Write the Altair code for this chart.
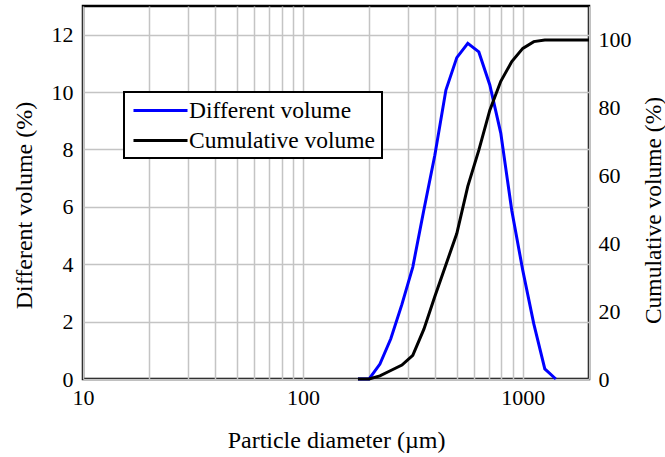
import altair as alt
import pandas as pd

# ---- data ----
diam_diff = [178, 200, 224, 251, 282, 316, 355, 398, 447, 501, 562, 631, 708, 794, 891, 1000, 1122, 1259, 1413]
diff_vol = [0, 0, 0.52, 1.4, 2.6, 3.9, 5.9, 7.8, 10.07, 11.2, 11.7, 11.4, 10.25, 8.57, 5.87, 3.78, 1.92, 0.35, 0]

diam_cum = [178, 200, 224, 251, 282, 316, 355, 398, 447, 501, 562, 631, 708, 794, 891, 1000, 1122, 1259, 1413, 2000]
cum_vol = [0, 0, 0.9, 2.5, 4.1, 7.0, 14.7, 24.3, 33.7, 42.9, 56.8, 67.5, 79.3, 87.8, 93.6, 97.5, 99.5, 100, 100, 100]

series_names = ["Different volume", "Cumulative volume"]
series_colors = ["#0000ff", "#000000"]

x_grid_ticks = [10, 20, 30, 40, 50, 60, 70, 80, 90,
                100, 200, 300, 400, 500, 600, 700, 800, 900,
                1000, 2000]
left_ticks = [0, 2, 4, 6, 8, 10, 12]
right_ticks = [0, 20, 40, 60, 80, 100]

FONT = "Liberation Serif"

df_diff = pd.DataFrame({"d": diam_diff, "v": diff_vol, "series": series_names[0]})
df_cum = pd.DataFrame({"d": diam_cum, "v": cum_vol, "series": series_names[1]})

x_enc = alt.X(
    "d:Q",
    scale=alt.Scale(type="log", domain=[10, 2000], nice=False),
    axis=alt.Axis(
        values=x_grid_ticks,
        labelExpr="(datum.value == 10 || datum.value == 100 || datum.value == 1000) ? format(datum.value, 'd') : ''",
        labelOverlap=False,
        labelFlush=False,
        grid=True,
        ticks=False,
        domain=False,
        labelPadding=8,
        title="Particle diameter (\u00b5m)",
        titleX=253,
        titleY=61,
        titleBaseline="middle",
        titleAlign="center",
    ),
)

color_enc = alt.Color(
    "series:N",
    scale=alt.Scale(domain=series_names, range=series_colors),
    title=None,
    legend=alt.Legend(
        orient="none",
        legendX=41,
        legendY=86,
        strokeColor="black",
        fillColor="white",
        padding=6,
        symbolType="M-2.5,0H2.5",
        symbolSize=467,
        symbolStrokeWidth=3,
        symbolOffset=18,
        labelOffset=16,
        rowPadding=6,
        labelLimit=400,
        labelFont=FONT,
        labelFontSize=23.5,
        labelColor="black",
    ),
)

diff_line = alt.Chart(df_diff).mark_line(strokeWidth=3).encode(
    x=x_enc,
    y=alt.Y(
        "v:Q",
        scale=alt.Scale(domain=[0, 13], nice=False),
        axis=alt.Axis(
            values=left_ticks,
            grid=True,
            ticks=False,
            domain=False,
            labelPadding=10,
            title="Different volume (%)",
            titleAngle=270,
            titleX=-59,
            titleY=199,
            titleBaseline="middle",
            titleAlign="center",
        ),
    ),
    color=color_enc,
)

cum_line = alt.Chart(df_cum).mark_line(strokeWidth=3).encode(
    x=x_enc,
    y=alt.Y(
        "v:Q",
        scale=alt.Scale(domain=[0, 110], nice=False),
        axis=alt.Axis(
            orient="right",
            values=right_ticks,
            grid=False,
            ticks=False,
            domain=False,
            labelPadding=9,
            title="Cumulative volume (%)",
            titleAngle=270,
            titleX=64,
            titleY=204,
            titleFontSize=23.5,
            titleBaseline="middle",
            titleAlign="center",
        ),
    ),
    color=alt.Color("series:N", scale=alt.Scale(domain=series_names, range=series_colors)),
)

chart = (
    alt.layer(diff_line, cum_line)
    .resolve_scale(y="independent")
    .properties(
        width=506,
        height=373,
        autosize=alt.AutoSizeParams(type="none"),
        padding={"left": 83, "top": 6, "right": 76, "bottom": 78},
        background="white",
    )
    .configure_view(stroke="black", strokeWidth=2.5)
    .configure_axis(
        labelFont=FONT,
        labelFontSize=22,
        labelColor="black",
        titleFont=FONT,
        titleFontSize=24,
        titleFontWeight="normal",
        titleColor="black",
        gridColor="#c4c4c4",
        gridWidth=1.5,
    )
    .configure_legend(strokeWidth=2)
)

chart.save("out.html", embed_options={"renderer": "svg", "actions": False})
